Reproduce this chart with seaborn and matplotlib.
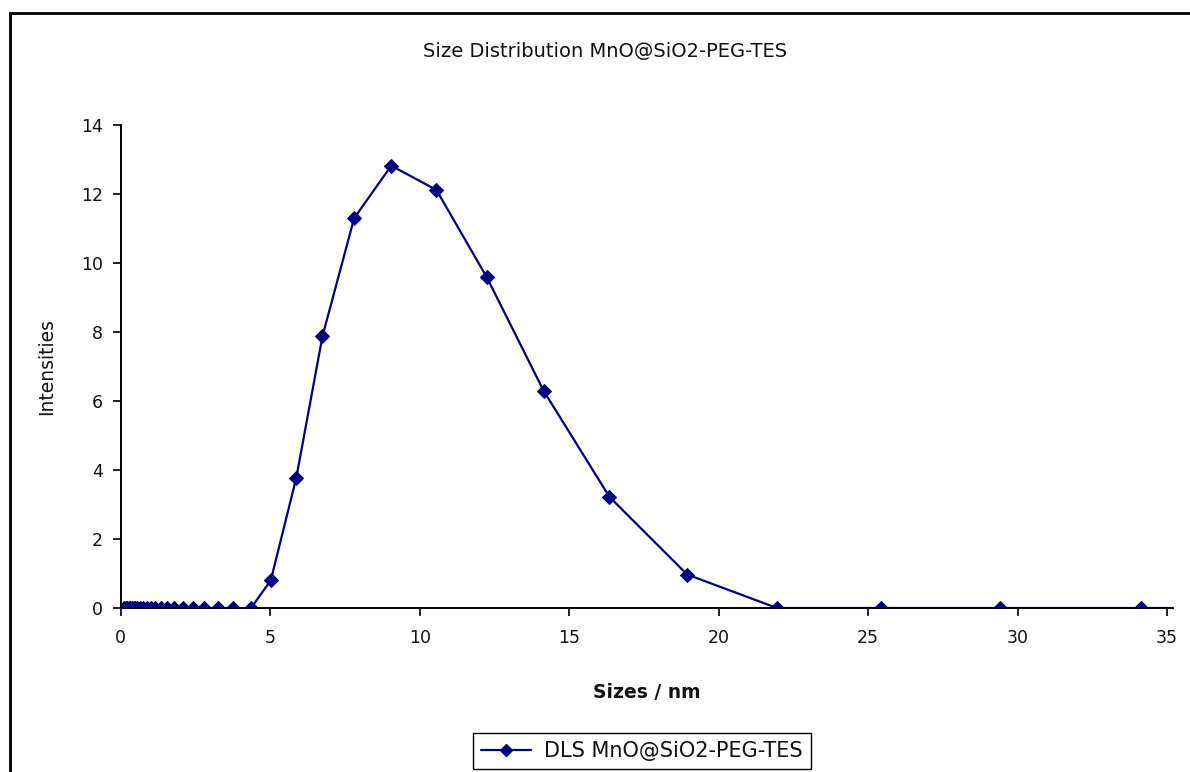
import numpy as np
import pandas as pd
import matplotlib
matplotlib.use("Agg")
import matplotlib.pyplot as plt
from matplotlib.patches import Rectangle
import seaborn as sns

# DLS size bins (nm) and intensities
sizes = [0.12, 0.17, 0.22, 0.27, 0.32, 0.37, 0.43, 0.49, 0.56, 0.65,
         0.75, 0.87, 1.0, 1.16, 1.34, 1.55, 1.79, 2.07, 2.43, 2.79,
         3.25, 3.77, 4.36, 5.02, 5.87, 6.75, 7.81, 9.05, 10.56, 12.25,
         14.15, 16.35, 18.95, 21.95, 25.42, 29.42, 34.12, 39.5]
intensities = [0, 0, 0, 0, 0, 0, 0, 0, 0, 0,
               0, 0, 0, 0, 0, 0, 0, 0, 0, 0,
               0, 0, 0, 0.8, 3.76, 7.88, 11.3, 12.82, 12.12, 9.58,
               6.29, 3.22, 0.97, 0, 0, 0, 0, 0]

title = "Size Distribution MnO@SiO2-PEG-TES"
series_name = "DLS MnO@SiO2-PEG-TES"
navy = "#000080"

df = pd.DataFrame({"size": sizes, "intensity": intensities, "series": series_name})

sns.set_style("white")
plt.rcParams["font.family"] = ["DejaVu Sans"]
plt.rcParams["text.color"] = "#111111"
plt.rcParams["axes.labelcolor"] = "#111111"

fig = plt.figure(figsize=(11.9, 7.72), dpi=100)
W, H = 1190, 772
ax = fig.add_axes([120.7 / W, 1 - 608 / H, (1173 - 120.7) / W, (608 - 125) / H])

sns.lineplot(data=df, x="size", y="intensity", hue="series", palette=[navy],
             marker="D", markersize=7, markeredgecolor=navy, linewidth=1.6,
             ax=ax, legend=False)

ax.set_xlim(0, 35.2)
ax.set_ylim(0, 14)
ax.set_xticks(range(0, 36, 5))
ax.set_yticks(range(0, 15, 2))
ax.tick_params(axis="both", direction="out", length=6, width=1.3,
               labelsize=12.5, bottom=True, left=True, colors="#111111")
ax.tick_params(axis="x", pad=9)
ax.tick_params(axis="y", pad=7)
for side in ["top", "right"]:
    ax.spines[side].set_visible(False)
for side in ["left", "bottom"]:
    ax.spines[side].set_color("black")
    ax.spines[side].set_linewidth(1.4)

ax.set_xlabel("Sizes / nm", fontsize=13.5, fontweight="bold", labelpad=26)
ax.set_ylabel("Intensities", fontsize=13.5, labelpad=18)
fig.text(605 / W, 1 - 52 / H, title, ha="center", va="center", fontsize=14)

# legend box at the bottom
handle = plt.Line2D([], [], color=navy, marker="D", markersize=6, linewidth=1.6)
fig.legend([handle], [series_name], loc="center", bbox_to_anchor=(642 / W, 1 - 751 / H),
           frameon=True, fancybox=False, edgecolor="black", fontsize=15,
           handlelength=2.4, handletextpad=0.6, borderpad=0.4, framealpha=1)

# chart area border (Excel style)
fig.patches.append(Rectangle((10 / W, -0.05), 1.1, 1 - 13 / H + 0.05, transform=fig.transFigure,
                             fill=False, edgecolor="black", linewidth=2))

fig.savefig("out.png", dpi=100)
